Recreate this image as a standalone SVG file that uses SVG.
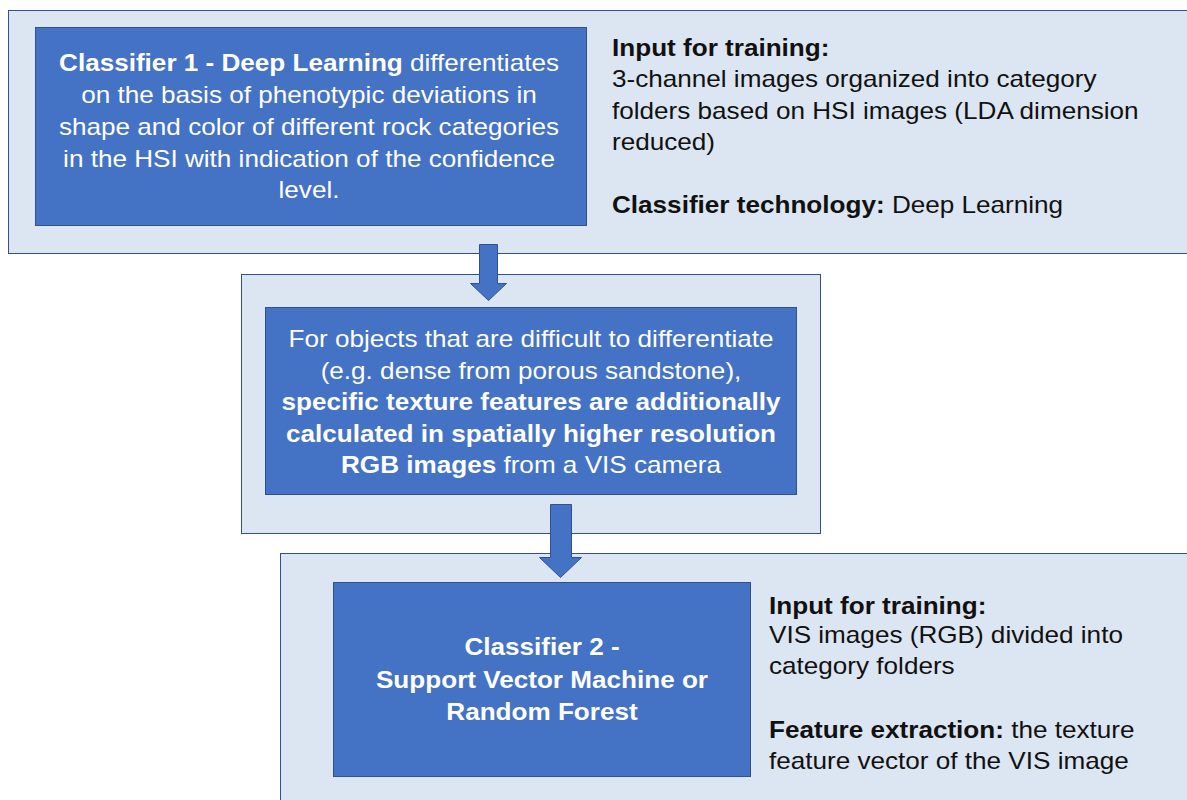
<svg xmlns="http://www.w3.org/2000/svg" width="1187" height="800" viewBox="0 0 1187 800">
<style>
.outer{fill:#DCE6F2;stroke:#2F528F;stroke-width:1}
.inner{fill:#4472C4;stroke:#2F528F;stroke-width:1}
.arrow{fill:#4472C4;stroke:#2F528F;stroke-width:1}
text{font-family:"Liberation Sans",Arial,sans-serif;font-size:23px}
.w{fill:#FFFFFF}
.k{fill:#111111}
.b{font-weight:bold}
</style>
<rect x="0" y="0" width="1187" height="800" fill="#FFFFFF"/>
<g id="stage1">
<rect class="outer" x="8.5" y="10.5" width="1190" height="243"/>
<rect class="inner" x="35.5" y="27.5" width="551" height="198"/>
<text class="w" text-anchor="middle" transform="translate(309 0) scale(1.135 1) translate(-309 0)"><tspan x="309" y="71"><tspan class="b">Classifier 1 - Deep Learning</tspan> differentiates</tspan><tspan x="309" y="103">on the basis of phenotypic deviations in</tspan><tspan x="309" y="135">shape and color of different rock categories</tspan><tspan x="309" y="167">in the HSI with indication of the confidence</tspan><tspan x="309" y="198">level.</tspan></text>
<text class="k" transform="translate(612 0) scale(1.135 1) translate(-612 0)"><tspan x="612" y="56" class="b">Input for training:</tspan><tspan x="612" y="87">3-channel images organized into category</tspan><tspan x="612" y="119">folders based on HSI images (LDA dimension</tspan><tspan x="612" y="150">reduced)</tspan><tspan x="612" y="213"><tspan class="b">Classifier technology:</tspan> Deep Learning</tspan></text>
</g>
<g id="stage2">
<rect class="outer" x="241.5" y="274.5" width="579" height="259"/>
<rect class="inner" x="265.5" y="307.5" width="531" height="187"/>
<text class="w" text-anchor="middle" transform="translate(531 0) scale(1.135 1) translate(-531 0)"><tspan x="531" y="347">For objects that are difficult to differentiate</tspan><tspan x="531" y="379">(e.g. dense from porous sandstone),</tspan><tspan x="531" y="410" class="b">specific texture features are additionally</tspan><tspan x="531" y="442" class="b">calculated in spatially higher resolution</tspan><tspan x="531" y="473"><tspan class="b">RGB images</tspan> from a VIS camera</tspan></text>
</g>
<g id="stage3">
<rect class="outer" x="280.5" y="553.5" width="920" height="260"/>
<rect class="inner" x="333.5" y="582.5" width="417" height="194"/>
<text class="w b" text-anchor="middle" transform="translate(542 0) scale(1.135 1) translate(-542 0)"><tspan x="542" y="655">Classifier 2 -</tspan><tspan x="542" y="688">Support Vector Machine or</tspan><tspan x="542" y="720">Random Forest</tspan></text>
<text class="k" transform="translate(769 0) scale(1.135 1) translate(-769 0)"><tspan x="769" y="614" class="b">Input for training:</tspan><tspan x="769" y="643">VIS images (RGB) divided into</tspan><tspan x="769" y="674">category folders</tspan><tspan x="769" y="738"><tspan class="b">Feature extraction:</tspan> the texture</tspan><tspan x="769" y="769">feature vector of the VIS image</tspan></text>
</g>
<g id="connectors">
<path class="arrow" d="M479.5 244.5 H497.5 V283.5 H506.5 L488.5 300.5 L470.5 283.5 H479.5 Z"/>
<path class="arrow" d="M550.5 504.5 H571.5 V557.5 H581.5 L560.5 577.5 L539.5 557.5 H550.5 Z"/>
</g>
</svg>
